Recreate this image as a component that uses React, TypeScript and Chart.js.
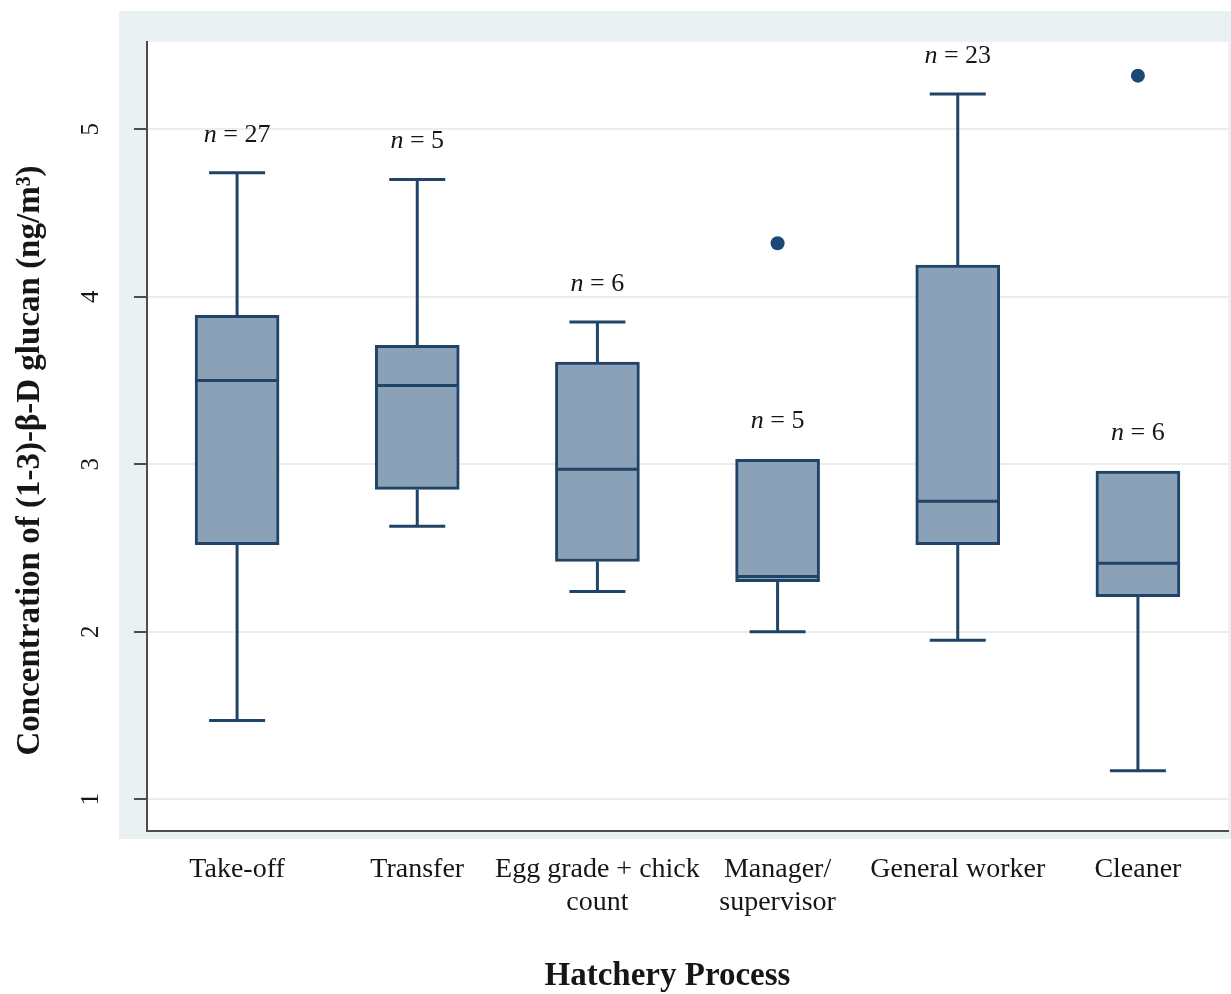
import React, { useEffect, useRef } from "react";
import { Chart, registerables } from "chart.js";

Chart.register(...registerables);

// Hatchery job groups (multi-line labels are arrays)
const categories: (string | string[])[] = [
  "Take-off",
  "Transfer",
  ["Egg grade + chick", "count"],
  ["Manager/", "supervisor"],
  "General worker",
  "Cleaner",
];

const sampleSizes = [27, 5, 6, 5, 23, 6];
const whiskerLow = [1.47, 2.63, 2.24, 2.0, 1.95, 1.17];
const quartile1 = [2.52, 2.85, 2.42, 2.3, 2.52, 2.21];
const medians = [3.5, 3.47, 2.97, 2.33, 2.78, 2.41];
const quartile3 = [3.89, 3.71, 3.61, 3.03, 4.19, 2.96];
const whiskerHigh = [4.74, 4.7, 3.85, 3.03, 5.21, 2.96];
const outliers: (number | null)[] = [null, null, null, 4.32, null, 5.32];

const yTicks = [1, 2, 3, 4, 5];
const yMin = 0.811;
const yMax = 5.521;

const yTitle = "Concentration of (1-3)-\u03b2-D glucan (ng/m\u00b3)";
const xTitle = "Hatchery Process";

const SERIF = '"Liberation Serif", "Times New Roman", serif';
const NAVY = "#1f4468";
const FILL = "#8ba1b8";
const TEXT = "#161616";

// Light panel behind the plot, white plotting region inside it
const panelPlugin = {
  id: "panel",
  beforeDraw(chart: any) {
    const { ctx, chartArea: a, width, height } = chart;
    ctx.save();
    ctx.fillStyle = "#ffffff";
    ctx.fillRect(0, 0, width, height);
    ctx.fillStyle = "#e9f1f3";
    ctx.fillRect(a.left - 28, a.top - 31, a.right - a.left + 31, a.bottom - a.top + 39);
    ctx.fillStyle = "#ffffff";
    ctx.fillRect(a.left, a.top, a.right - a.left, a.bottom - a.top);
    ctx.restore();
  },
};

// Whiskers, caps, medians and the n = ... annotations
const boxPlugin = {
  id: "boxParts",
  afterDatasetsDraw(chart: any) {
    const { ctx } = chart;
    const yScale = chart.scales.y;
    const meta = chart.getDatasetMeta(0);
    const capHalf = 28;
    ctx.save();
    ctx.strokeStyle = NAVY;
    ctx.lineWidth = 3;
    ctx.lineCap = "butt";
    meta.data.forEach((bar: any, i: number) => {
      const x = bar.x;
      const half = bar.width / 2;
      const yQ1 = yScale.getPixelForValue(quartile1[i]);
      const yQ3 = yScale.getPixelForValue(quartile3[i]);
      const yLo = yScale.getPixelForValue(whiskerLow[i]);
      const yHi = yScale.getPixelForValue(whiskerHigh[i]);
      const yMed = yScale.getPixelForValue(medians[i]);

      ctx.beginPath();
      if (whiskerHigh[i] > quartile3[i]) {
        ctx.moveTo(x, yQ3);
        ctx.lineTo(x, yHi);
        ctx.moveTo(x - capHalf, yHi);
        ctx.lineTo(x + capHalf, yHi);
      }
      if (whiskerLow[i] < quartile1[i]) {
        ctx.moveTo(x, yQ1);
        ctx.lineTo(x, yLo);
        ctx.moveTo(x - capHalf, yLo);
        ctx.lineTo(x + capHalf, yLo);
      }
      ctx.moveTo(x - half + 1.5, yMed);
      ctx.lineTo(x + half - 1.5, yMed);
      ctx.stroke();

      // sample size label above the top of each box/whisker
      const top = Math.max(whiskerHigh[i], quartile3[i]);
      const yLab = yScale.getPixelForValue(top) - 38;
      const italic = `italic 26px ${SERIF}`;
      const upright = `26px ${SERIF}`;
      const rest = ` = ${sampleSizes[i]}`;
      ctx.font = italic;
      const wN = ctx.measureText("n").width;
      ctx.font = upright;
      const wR = ctx.measureText(rest).width;
      const x0 = x - (wN + wR) / 2;
      ctx.fillStyle = TEXT;
      ctx.textBaseline = "middle";
      ctx.textAlign = "left";
      ctx.font = italic;
      ctx.fillText("n", x0, yLab);
      ctx.font = upright;
      ctx.fillText(rest, x0 + wN, yLab);
    });
    ctx.restore();
  },
};

// Axis titles
const titlesPlugin = {
  id: "axisTitles",
  afterDraw(chart: any) {
    const { ctx, chartArea: a } = chart;
    ctx.save();
    ctx.fillStyle = TEXT;
    ctx.textAlign = "center";
    ctx.textBaseline = "middle";
    ctx.font = `bold 33px ${SERIF}`;
    ctx.translate(30, (a.top + a.bottom) / 2 + 24);
    ctx.rotate(-Math.PI / 2);
    ctx.fillText(yTitle, 0, 0);
    ctx.restore();

    ctx.save();
    ctx.fillStyle = TEXT;
    ctx.textAlign = "center";
    ctx.textBaseline = "middle";
    ctx.font = `bold 33px ${SERIF}`;
    ctx.fillText(xTitle, (a.left + a.right) / 2 - 20, 976);
    ctx.restore();
  },
};

export default function App() {
  const canvasRef = useRef<HTMLCanvasElement | null>(null);

  useEffect(() => {
    document.body.style.margin = "0";
    const canvas = canvasRef.current;
    if (!canvas) return;

    const chart = new Chart(canvas, {
      type: "bar",
      data: {
        labels: categories as any,
        datasets: [
          {
            type: "bar",
            data: quartile1.map((q, i) => [q, quartile3[i]]) as any,
            backgroundColor: FILL,
            borderColor: NAVY,
            borderWidth: 3,
            borderSkipped: false,
            barThickness: 84,
          },
          {
            type: "line",
            data: outliers as any,
            showLine: false,
            pointRadius: 7,
            pointHoverRadius: 7,
            pointBackgroundColor: "#1b4876",
            pointBorderWidth: 0,
          },
        ],
      },
      options: {
        responsive: false,
        animation: false,
        devicePixelRatio: 1,
        events: [],
        layout: {
          autoPadding: false,
          padding: { left: 0, top: 42, right: 3, bottom: 0 },
        },
        plugins: {
          legend: { display: false },
          tooltip: { enabled: false },
          title: { display: false },
        },
        scales: {
          x: {
            type: "category",
            offset: true,
            afterFit: (s: any) => {
              s.height = 163;
              s.paddingLeft = 0;
              s.paddingRight = 0;
            },
            grid: { display: false, drawTicks: false },
            border: { display: true, color: "#4d4d4d", width: 2 },
            ticks: {
              color: TEXT,
              padding: 23,
              maxRotation: 0,
              minRotation: 0,
              autoSkip: false,
              font: { family: SERIF, size: 28, lineHeight: 1.15 },
            },
          },
          y: {
            type: "linear",
            min: yMin,
            max: yMax,
            afterFit: (s: any) => {
              s.width = 147;
              s.paddingTop = 0;
              s.paddingBottom = 0;
            },
            afterBuildTicks: (s: any) => {
              s.ticks = yTicks.map((v) => ({ value: v }));
            },
            grid: {
              color: "#ebeeee",
              lineWidth: 2,
              tickLength: 13,
              tickColor: "#4d4d4d",
              tickWidth: 2,
            },
            border: { display: true, color: "#4d4d4d", width: 2 },
            ticks: {
              color: TEXT,
              minRotation: 90,
              maxRotation: 90,
              crossAlign: "center",
              padding: 36,
              font: { family: SERIF, size: 25 },
            },
          },
        },
      },
      plugins: [panelPlugin, boxPlugin, titlesPlugin],
    } as any);

    return () => {
      chart.destroy();
    };
  }, []);

  return (
    <canvas
      ref={canvasRef}
      width={1231}
      height={994}
      style={{ display: "block", width: 1231, height: 994 }}
    />
  );
}
